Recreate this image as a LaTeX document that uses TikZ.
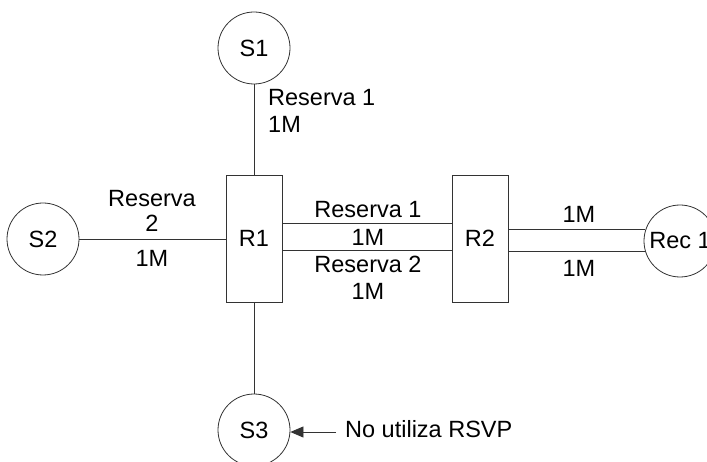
\documentclass[tikz,border=0pt]{standalone}
\usepackage{fontspec}
\setmainfont{Liberation Sans}
\usetikzlibrary{arrows.meta}
\begin{document}
\begin{tikzpicture}[x=1pt,y=-1pt,
  every node/.style={font=\fontsize{23.5}{27}\selectfont, inner sep=0pt, text=black},
  host/.style={draw=black!80, circle, minimum size=72pt, line width=0.8pt},
  router/.style={draw=black!80, rectangle, minimum width=56pt, minimum height=127pt, line width=0.8pt},
  link/.style={draw=black!80, line width=0.8pt},
  lbl/.style={anchor=base},
  lblw/.style={anchor=base west},
]
\useasboundingbox (0,0) rectangle (707,462);
\clip (0,0) rectangle (707,462);
% nodes
\node[host] (S1) at (254,48) {S1};
\node[host] (S2) at (43,239) {S2};
\node[host] (S3) at (254,430) {S3};
\node[host] (Rec) at (680,241) {Rec 1};
\node[router] (R1) at (254,238.5) {R1};
\node[router] (R2) at (480,238.5) {R2};
% links
\draw[link] (S1.south) -- (R1.north);
\draw[link] (S2.east) -- (S2.east -| R1.west);
\draw[link] (R1.south) -- (S3.north);
\draw[link] (R1.east |- 0,223) -- (R2.west |- 0,223);
\draw[link] (R1.east |- 0,250) -- (R2.west |- 0,250);
\draw[link] (R2.east |- Rec.162) -- (Rec.162);
\draw[link] (R2.east |- Rec.196) -- (Rec.196);
% arrow
\coordinate (arrowstart) at (336,432);
\draw[link,-{Triangle[length=13pt,width=11pt]}] (arrowstart) -- (S3.east |- arrowstart);
\node[lblw] (note) at (345,437) {No utiliza RSVP};
% labels
\node[lblw] (l1a) at (268,106) {Reserva 1};
\node[lblw] (l1b) at (268,133) {1M};
\node[lbl] (l2a) at (152,207) {Reserva};
\node[lbl] (l2b) at (152,232) {2};
\node[lbl] (l2c) at (152,267) {1M};
\node[lbl] (m1) at (368,218) {Reserva 1};
\node[lbl] (m2) at (368,246) {1M};
\node[lbl] (m3) at (368,273) {Reserva 2};
\node[lbl] (m4) at (368,300) {1M};
\node[lbl] (r1) at (579,223) {1M};
\node[lbl] (r2) at (579,277) {1M};
\end{tikzpicture}
\end{document}
